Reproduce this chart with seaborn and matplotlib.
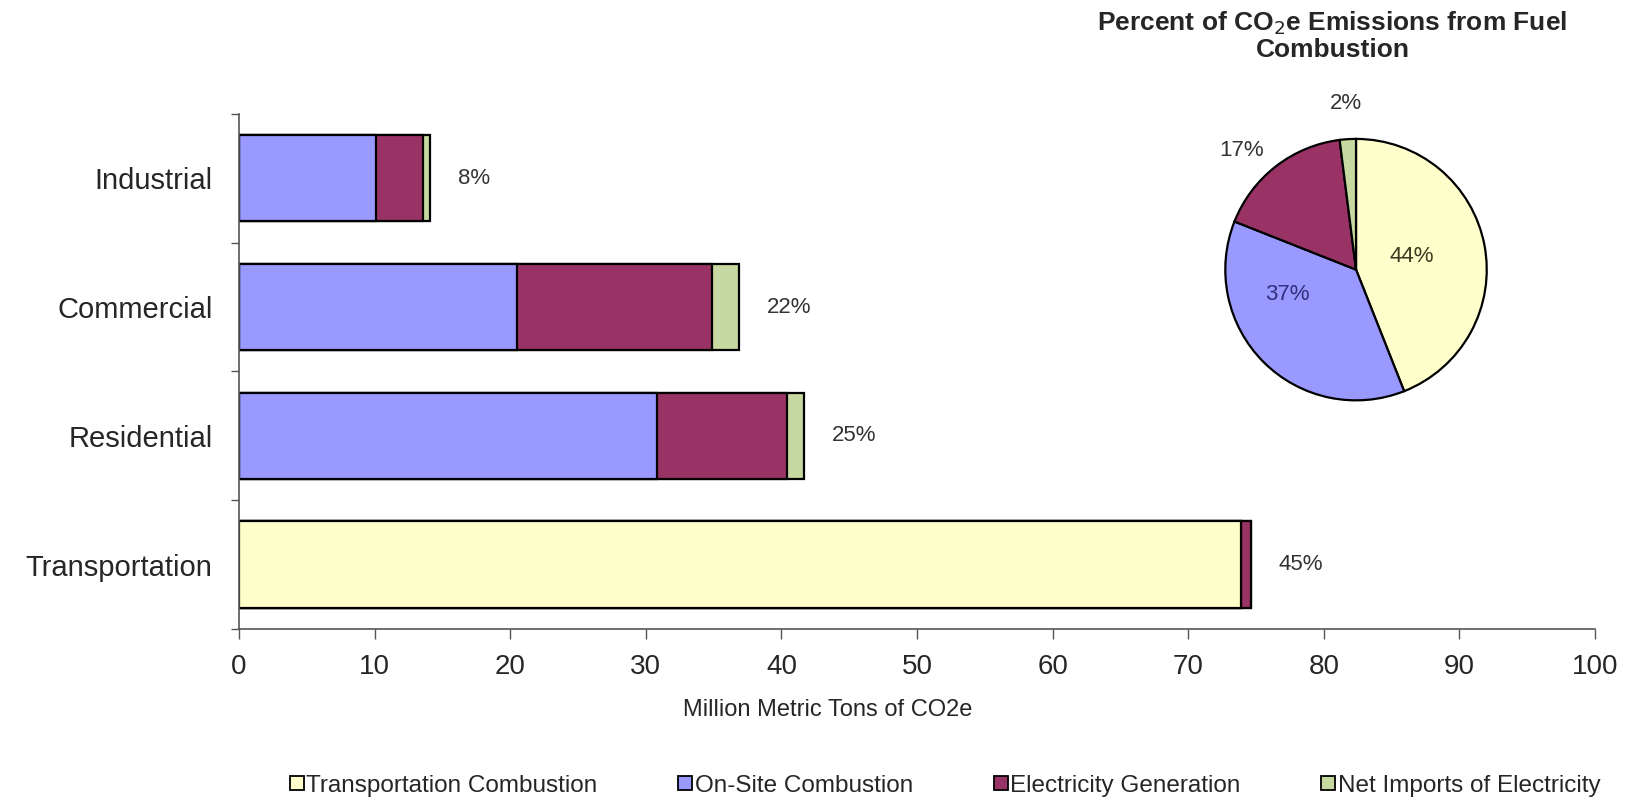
import numpy as np
import pandas as pd
import matplotlib
matplotlib.use("Agg")
import matplotlib.pyplot as plt
from matplotlib.lines import Line2D
import seaborn as sns

sns.set_style("white")
plt.rcParams['font.family'] = ['Liberation Sans', 'DejaVu Sans']

# -------------------------
#  Data
# -------------------------
sectors = ["Industrial", "Commercial", "Residential", "Transportation"]
sources = ["Transportation Combustion", "On-Site Combustion",
           "Electricity Generation", "Net Imports of Electricity"]
transport_comb = [0.0, 0.0, 0.0, 73.9]
onsite_comb = [10.1, 20.5, 30.8, 0.0]
elec_gen = [3.5, 14.4, 9.6, 0.7]
net_imports = [0.5, 2.0, 1.3, 0.0]
sector_pct = ["8%", "22%", "25%", "45%"]

pie_values = [44, 37, 17, 2]
pie_labels = ["44%", "37%", "17%", "2%"]

colors = ["#FFFFCC", "#9999FF", "#993366", "#C6D9A0"]
pie_text_colors = ["#3A3A20", "#30307F", "#333333", "#333333"]

df = pd.DataFrame({"sector": sectors,
                   sources[0]: transport_comb,
                   sources[1]: onsite_comb,
                   sources[2]: elec_gen,
                   sources[3]: net_imports})
cum = df[sources].cumsum(axis=1)
cum["sector"] = df["sector"]

# -------------------------
#  Figure
# -------------------------
fig = plt.figure(figsize=(16.27, 8.02), dpi=100)
ax = fig.add_axes([0.1469, 0.2157, 0.8334, 0.6422])

# stacked bars: draw cumulative totals from the outermost layer inwards
for src, col in reversed(list(zip(sources, colors))):
    sns.barplot(data=cum, x=src, y="sector", order=sectors, color=col,
                edgecolor="black", linewidth=1.6, width=0.67,
                errorbar=None, saturation=1, ax=ax)

totals = cum[sources[-1]].values
for i, (tot, pct) in enumerate(zip(totals, sector_pct)):
    ax.annotate(pct, (tot, i), xytext=(20, 0), textcoords="offset points",
                va="center", ha="left", fontsize=16, color="#333333")

ax.set_xlim(0, 100)
ax.set_ylim(3.5, -0.5)
ax.set_xticks(np.arange(0, 101, 10))
ax.set_xlabel("Million Metric Tons of CO2e", fontsize=17)
ax.xaxis.set_label_coords(0.434, -0.135)
ax.set_ylabel("")
ax.set_yticks(np.arange(-0.5, 3.6, 1.0), minor=True)
ax.tick_params(axis="y", which="major", length=0, labelsize=21, pad=19)
ax.tick_params(axis="y", which="minor", length=6, width=1, direction="out",
               left=True, color="#555555")
ax.tick_params(axis="x", which="major", length=7, width=1, direction="out",
               bottom=True, labelsize=20, pad=11, color="#555555")
for s in ["top", "right"]:
    ax.spines[s].set_visible(False)
for s in ["left", "bottom"]:
    ax.spines[s].set_color("#555555")
    ax.spines[s].set_linewidth(1.2)

# -------------------------
#  Pie inset
# -------------------------
pax = fig.add_axes([0.7523, 0.4988, 0.1623, 0.330])
wedges, _ = pax.pie(pie_values, colors=colors, startangle=90, counterclock=False,
                    wedgeprops=dict(edgecolor="black", linewidth=1.6))
label_r = [0.44, 0.56, 1.15, 1.27]
label_shift = [2, -25, 0, 0]          # degrees, nudges the label along the arc
label_ha = ["center", "center", "right", "center"]
for w, lab, tc, r, sh, ha in zip(wedges, pie_labels, pie_text_colors,
                                 label_r, label_shift, label_ha):
    ang = np.deg2rad((w.theta1 + w.theta2) / 2 + sh)
    pax.text(r * np.cos(ang), r * np.sin(ang), lab, ha=ha, va="center",
             fontsize=16, color=tc)
pax.set_xlim(-1.01, 1.01)
pax.set_ylim(-1.01, 1.01)
pax.set_aspect("equal")
fig.text(0.819, 0.988, "Percent of CO$_2$e Emissions from Fuel\nCombustion",
         ha="center", va="top", fontsize=19, fontweight="bold", linespacing=1.05)

# -------------------------
#  Legend
# -------------------------
handles = [Line2D([], [], marker="s", linestyle="none", markersize=10,
                  markerfacecolor=c, markeredgecolor="black", markeredgewidth=1.3)
           for c in colors]
fig.legend(handles, sources, loc="center", bbox_to_anchor=(0.58, 0.02),
           ncol=4, frameon=False, handletextpad=0.0,
           columnspacing=3.2, handlelength=0.8,
           prop={"family": ["Liberation Sans"], "size": 17.5})

fig.savefig("out.png", dpi=100)
